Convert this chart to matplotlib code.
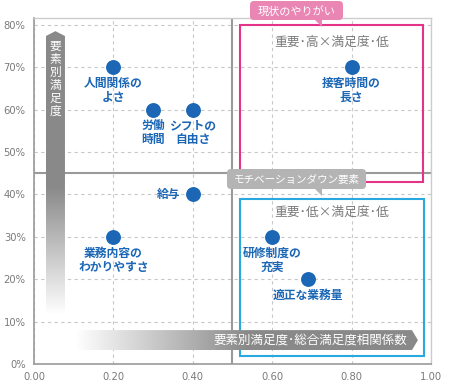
import numpy as np
import matplotlib
matplotlib.use('Agg')
import matplotlib.pyplot as plt
from matplotlib.patches import Polygon, Rectangle, FancyBboxPatch

plt.rcParams['font.family'] = ['Noto Sans CJK JP', 'DejaVu Sans']

# data
names = ['人間関係の\nよさ', '労働\n時間', 'シフトの\n自由さ', '給与',
         '業務内容の\nわかりやすさ', '接客時間の\n長さ', '研修制度の\n充実', '適正な業務量']
corr = [0.20, 0.30, 0.40, 0.40, 0.20, 0.80, 0.60, 0.69]
satis = [70, 60, 60, 40, 30, 70, 30, 20]
label_side = ['below', 'below', 'below', 'left', 'below', 'below', 'below', 'below']

xticks = [0.0, 0.2, 0.4, 0.6, 0.8, 1.0]
yticks = [0, 10, 20, 30, 40, 50, 60, 70, 80]
x_split = 0.5
y_split = 45

blue = '#1b66b5'
pink = '#e5338a'
cyan = '#2aa8e0'
gray_txt = '#7a7a7a'

W, H = 449, 386
fig = plt.figure(figsize=(W / 100, H / 100), dpi=100, facecolor='w')
ax = fig.add_axes([34 / W, 1 - 364 / H, 397 / W, 346 / H])
ax.set_xlim(0, 1)
ax.set_ylim(0, 81.6)

ax.set_xticks(xticks)
ax.set_yticks(yticks)
ax.set_xticklabels(['%.2f' % v for v in xticks])
ax.set_yticklabels(['%d%%' % v for v in yticks])
for lab in ax.get_xticklabels() + ax.get_yticklabels():
    lab.set_family(['DejaVu Sans'])
    lab.set_fontsize(7.2)
    lab.set_color(gray_txt)
ax.tick_params(length=0, pad=6)
ax.grid(True, color='#c8c8c8', linestyle=(0, (3, 3)), linewidth=0.8)
ax.set_axisbelow(True)
for s in ['left', 'bottom']:
    ax.spines[s].set_color('#9a9a9a')
    ax.spines[s].set_linewidth(1.2)
for s in ['top', 'right']:
    ax.spines[s].set_color('#cccccc')
    ax.spines[s].set_linewidth(1.0)

# quadrant lines
ax.axvline(x_split, color='#9a9a9a', lw=1.5, zorder=2)
ax.axhline(y_split, color='#9a9a9a', lw=1.5, zorder=2)

# highlight boxes
ax.add_patch(Rectangle((0.519, 43), 0.461, 37, fill=False, edgecolor=pink, lw=1.5, zorder=3))
ax.add_patch(Rectangle((0.519, 2), 0.463, 37, fill=False, edgecolor=cyan, lw=1.5, zorder=3))
ax.text(0.75, 75.9, '重要･高×満足度･低', ha='center', va='center', fontsize=9.2, color=gray_txt)
ax.text(0.75, 35.8, '重要･低×満足度･低', ha='center', va='center', fontsize=9.2, color=gray_txt)

# gradient arrows
def grad_band(verts, extent, vertical, t0, t1):
    n = 256
    t = np.linspace(0, 1, n)
    f = np.clip((t - t0) / (t1 - t0), 0, 1)
    g = np.array([0.54, 0.54, 0.54])
    cols = (1 - f)[:, None] * np.ones(3) + f[:, None] * g
    img = cols[:, None, :] if vertical else cols[None, :, :]
    poly = Polygon(verts, closed=True, transform=ax.transAxes, facecolor='none', edgecolor='none')
    ax.add_patch(poly)
    im = ax.imshow(img, extent=extent, transform=ax.transAxes, origin='lower',
                   aspect='auto', zorder=4, clip_on=True)
    im.set_clip_path(poly)

grad_band([(0.030, 0.142), (0.030, 0.948), (0.054, 0.962), (0.078, 0.948), (0.078, 0.142)],
          [0.030, 0.078, 0.142, 0.962], True, 0.0, 0.45)
grad_band([(0.103, 0.040), (0.952, 0.040), (0.967, 0.069), (0.952, 0.098), (0.103, 0.098)],
          [0.103, 0.967, 0.040, 0.098], False, 0.0, 0.5)
ax.set_xlim(0, 1)
ax.set_ylim(0, 81.6)

ax.text(0.054, 0.936, '\n'.join('要素別満足度'), transform=ax.transAxes, ha='center', va='top',
        fontsize=8.5, color='white', linespacing=1.0, zorder=5)
ax.text(0.94, 0.069, '要素別満足度･総合満足度相関係数', transform=ax.transAxes, ha='right',
        va='center', fontsize=9, color='white', zorder=5)

# points
ax.scatter(corr, satis, s=115, color=blue, zorder=6, linewidths=0)
for x, y, n, side in zip(corr, satis, names, label_side):
    if side == 'left':
        ax.annotate(n, (x, y), xytext=(-9, 0), textcoords='offset points', ha='right',
                    va='center', fontsize=8.5, color=blue, fontweight='bold', zorder=6)
    else:
        ax.annotate(n, (x, y), xytext=(0, -7), textcoords='offset points', ha='center',
                    va='top', fontsize=8.5, color=blue, fontweight='bold', linespacing=1.1, zorder=6)

# callouts in pixel coords
ov = fig.add_axes([0, 0, 1, 1], facecolor='none')
ov.set_xlim(0, W)
ov.set_ylim(H, 0)
ov.axis('off')

def callout(x0, x1, y0, y1, tipx, tipy, color, text, size):
    ov.add_patch(FancyBboxPatch((x0, y0), x1 - x0, y1 - y0,
                                boxstyle='round,pad=0,rounding_size=4',
                                facecolor=color, edgecolor='none'))
    ov.add_patch(Polygon([(tipx - 8, y1 - 1), (tipx, y1 - 1), (tipx, tipy)], closed=True,
                         facecolor=color, edgecolor='none'))
    ov.text((x0 + x1) / 2, (y0 + y1) / 2 + 0.5, text, ha='center', va='center',
            fontsize=size, color='white')

callout(250, 343, 1, 20, 322, 27, '#ea86b4', '現状のやりがい', 8)
callout(227, 366, 169, 189, 322, 196, '#b4b4b4', 'モチベーションダウン要素', 7.6)

fig.savefig('out.png', dpi=100)
